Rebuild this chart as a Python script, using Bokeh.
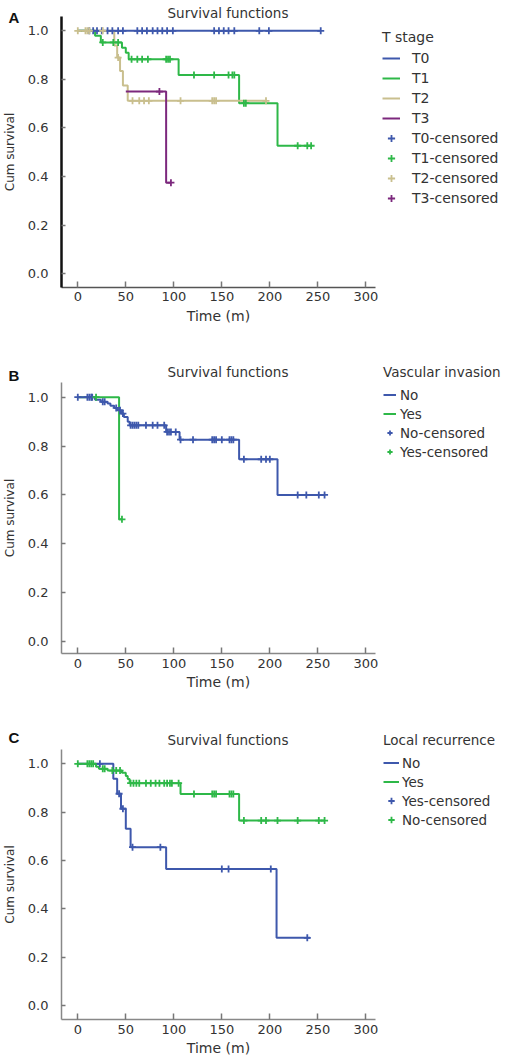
from bokeh.plotting import figure
from bokeh.models import (Range1d, FixedTicker, NumeralTickFormatter, Legend,
                          LegendItem, Label, ColumnDataSource)
from bokeh.layouts import column
from bokeh.embed import file_html
from bokeh.resources import INLINE

FONT = "DejaVu Sans"
TXT = "#333333"
BLUE, GREEN, TAN, PURPLE = "#3E58AC", "#2EB848", "#C9BF8E", "#7C287D"

X_TICKS = [0, 50, 100, 150, 200, 250, 300]
Y_TICKS = [0.0, 0.2, 0.4, 0.6, 0.8, 1.0]
TITLE = "Survival functions"
X_LABEL = "Time (m)"
Y_LABEL = "Cum survival"

# ---------------- Panel A : T stage ----------------
a_t0_time = [0]
a_t0_surv = [1.0]
a_t0_end = 253
a_t0_cens = [12, 16, 20, 25, 31, 36, 42, 47, 62, 67, 72, 78, 83, 88, 93, 99,
             142, 147, 152, 157, 163, 189, 199, 253]

a_t1_time = [0, 18, 24, 46, 50, 53, 105, 168, 208]
a_t1_surv = [1.0, 0.98, 0.952, 0.93, 0.91, 0.883, 0.818, 0.702, 0.527]
a_t1_end = 243
a_t1_cens = [26, 37, 42, 56, 62, 67, 73, 92, 94, 96, 121, 142, 157, 161, 163,
             173, 175, 229, 239, 243]

a_t2_time = [0, 38, 41, 44, 47, 52]
a_t2_surv = [1.0, 0.94, 0.89, 0.835, 0.775, 0.712]
a_t2_end = 197
a_t2_cens = [0, 8, 10, 12, 26, 42, 57, 64, 69, 74, 107, 140, 142, 144, 196]

a_t3_time = [50, 92]
a_t3_surv = [0.75, 0.375]
a_t3_end = 97
a_t3_cens = [85, 97]

# ---------------- Panel B : Vascular invasion ----------------
b_no_time = [0, 18, 24, 31, 34, 38, 41, 45, 48, 52, 54, 92, 106, 168, 208]
b_no_surv = [1.0, 0.99, 0.981, 0.974, 0.965, 0.956, 0.947, 0.933, 0.919, 0.9,
             0.885, 0.858, 0.826, 0.746, 0.6]
b_no_end = 257
b_no_cens = [0, 10, 12, 14, 15, 26, 28, 40, 44, 47, 55, 57, 59, 61, 63, 71, 78,
             83, 90, 93, 95, 97, 102, 107, 120, 140, 142, 144, 150, 158, 160,
             162, 173, 191, 196, 200, 229, 238, 251, 257]

b_yes_time = [0, 43]
b_yes_surv = [1.0, 0.5]
b_yes_end = 46
b_yes_cens = [19, 46]

# ---------------- Panel C : Local recurrence ----------------
c_no_time = [0, 37, 41, 45, 50, 55, 92, 207]
c_no_surv = [1.0, 0.938, 0.876, 0.814, 0.731, 0.655, 0.565, 0.28]
c_no_end = 242
c_blue_cens = [23, 43, 47, 57, 86, 150, 157, 201, 239]

c_yes_time = [0, 19, 22, 31, 46, 50, 52, 54, 107, 168]
c_yes_surv = [1.0, 0.988, 0.979, 0.972, 0.963, 0.95, 0.937, 0.92, 0.875, 0.765]
c_yes_end = 257
c_green_cens = [0, 10, 12, 14, 16, 26, 28, 36, 40, 44, 55, 58, 61, 64, 71, 76,
                81, 85, 90, 93, 96, 98, 105, 121, 140, 142, 144, 158, 160, 162,
                173, 191, 196, 208, 229, 251, 257]

X_LO, X_HI = -17, 310          # extent of the drawn x axis
FIG_W = 520
XR = (-80.5, -80.5 + FIG_W / 0.9602)   # full canvas x range


def surv_at(t, time, surv):
    s = surv[0]
    for ti, si in zip(time, surv):
        if ti <= t:
            s = si
    return s


def add_curve(p, time, surv, end, color):
    src = ColumnDataSource(dict(x=list(time) + [end], y=list(surv) + [surv[-1]]))
    return p.step("x", "y", source=src, mode="after", line_color=color, line_width=2)


def add_cens(p, cens, time, surv, color):
    src = ColumnDataSource(dict(x=cens, y=[surv_at(t, time, surv) for t in cens]))
    return p.scatter("x", "y", source=src, marker="cross", size=7,
                     line_color=color, line_width=1.8)


def make_fig(h, yr, x_axis_y, letter, letter_y, title_y, y_axis_color, y_axis_w, x_axis_color):
    p = figure(width=FIG_W, height=h, x_range=Range1d(*XR), y_range=Range1d(*yr),
               output_backend="svg", toolbar_location=None,
               min_border_left=0, min_border_right=0, min_border_top=0,
               min_border_bottom=0)
    p.title.text = ""
    p.grid.visible = False
    p.outline_line_color = None
    xa, ya = p.xaxis[0], p.yaxis[0]
    xa.fixed_location = x_axis_y
    ya.fixed_location = X_LO
    xa.bounds = (X_LO, X_HI)
    ya.bounds = (x_axis_y, 1.06)
    xa.ticker = FixedTicker(ticks=X_TICKS)
    ya.ticker = FixedTicker(ticks=Y_TICKS)
    ya.formatter = NumeralTickFormatter(format="0.0")
    for ax in (xa, ya):
        ax.minor_tick_line_color = None
        ax.major_tick_out = 0
        ax.major_label_text_font = FONT
        ax.major_label_text_font_size = "13px"
        ax.major_label_text_color = TXT
        ax.axis_label_text_font = FONT
        ax.axis_label_text_font_style = "normal"
        ax.axis_label_text_color = TXT
        ax.major_tick_line_color = "#777777"
        ax.major_tick_line_width = 1.5
    xa.major_tick_in = 6
    ya.major_tick_in = 4
    xa.axis_label = X_LABEL
    xa.axis_label_text_font_size = "14px"
    xa.major_label_standoff = 5
    xa.axis_label_standoff = 3
    ya.axis_label = Y_LABEL
    ya.axis_label_text_font_size = "12px"
    ya.major_label_standoff = 13
    ya.axis_label_standoff = 8
    ya.axis_line_color = y_axis_color
    ya.axis_line_width = y_axis_w
    xa.axis_line_color = x_axis_color
    xa.axis_line_width = 1.5
    p.add_layout(Label(x=-72.2, y=letter_y, text=letter, text_font="Liberation Sans",
                       text_font_style="bold", text_font_size="15px",
                       text_baseline="middle", text_align="left", text_color="#111111"))
    p.add_layout(Label(x=156.4, y=title_y, text=TITLE, text_font=FONT,
                       text_font_size="13.5px", text_baseline="middle",
                       text_align="center", text_color=TXT))
    return p


def add_legend(p, title, items, x, y, glyph_w, item_h, standoff, title_standoff, fs):
    leg = Legend(items=[LegendItem(label=l, renderers=[r]) for l, r in items],
                 title=title, location=(x, y), orientation="vertical",
                 title_text_font=FONT, title_text_font_size=fs,
                 title_text_font_style="normal", title_text_color=TXT,
                 title_standoff=title_standoff,
                 label_text_font=FONT, label_text_font_size=fs,
                 label_text_color=TXT, glyph_width=glyph_w, glyph_height=item_h,
                 label_height=item_h, label_standoff=standoff, spacing=0,
                 padding=0, margin=0, border_line_color=None,
                 background_fill_alpha=0)
    p.add_layout(leg)


# Panel A
pA = make_fig(345, (-0.2951, 1.1247), -0.055, "A", 1.056, 1.0724, "#111111", 2.5, "#555555")
rA0 = add_curve(pA, a_t0_time, a_t0_surv, a_t0_end, BLUE)
rA1 = add_curve(pA, a_t1_time, a_t1_surv, a_t1_end, GREEN)
rA2 = add_curve(pA, a_t2_time, a_t2_surv, a_t2_end, TAN)
rA3 = add_curve(pA, a_t3_time, a_t3_surv, a_t3_end, PURPLE)
cA0 = add_cens(pA, a_t0_cens, a_t0_time, a_t0_surv, BLUE)
cA1 = add_cens(pA, a_t1_cens, a_t1_time, a_t1_surv, GREEN)
cA2 = add_cens(pA, a_t2_cens, a_t2_time, a_t2_surv, TAN)
cA3 = add_cens(pA, a_t3_cens, a_t3_time, a_t3_surv, PURPLE)
add_legend(pA, "T stage",
           [("T0", rA0), ("T1", rA1), ("T2", rA2), ("T3", rA3),
            ("T0-censored", cA0), ("T1-censored", cA1),
            ("T2-censored", cA2), ("T3-censored", cA3)],
           382, 137, 18, 20, 12, 3, "14px")

# Panel B
pB = make_fig(365, (-0.2824, 1.2116), -0.05, "B", 1.089, 1.1025, "#888888", 1.5, "#888888")
rBy = add_curve(pB, b_yes_time, b_yes_surv, b_yes_end, GREEN)
rBn = add_curve(pB, b_no_time, b_no_surv, b_no_end, BLUE)
cBn = add_cens(pB, b_no_cens, b_no_time, b_no_surv, BLUE)
cBy = add_cens(pB, b_yes_cens, b_yes_time, b_yes_surv, GREEN)
add_legend(pB, "Vascular invasion",
           [("No", rBn), ("Yes", rBy), ("No-censored", cBn), ("Yes-censored", cBy)],
           383, 249, 13, 19, 4, 5, "13.5px")

# Panel C
pC = make_fig(351, (-0.2317, 1.2205), -0.06, "C", 1.110, 1.0993, "#888888", 1.5, "#888888")
rCn = add_curve(pC, c_no_time, c_no_surv, c_no_end, BLUE)
rCy = add_curve(pC, c_yes_time, c_yes_surv, c_yes_end, GREEN)
cCb = add_cens(pC, c_blue_cens, c_no_time, c_no_surv, BLUE)
cCg = add_cens(pC, c_green_cens, c_yes_time, c_yes_surv, GREEN)
add_legend(pC, "Local recurrence",
           [("No", rCn), ("Yes", rCy), ("Yes-censored", cCb), ("No-censored", cCg)],
           383, 232, 16, 19, 3, 5, "13.5px")

layout = column(pA, pB, pC, spacing=0)
open("out.html", "w").write(file_html(layout, INLINE))
